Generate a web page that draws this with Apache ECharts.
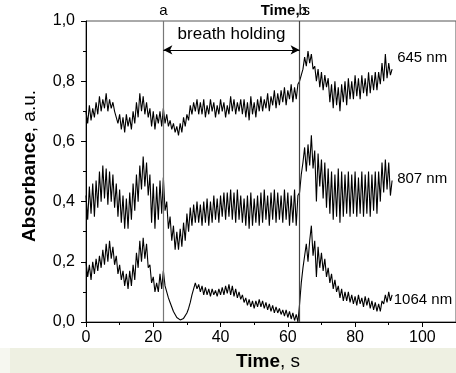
<!DOCTYPE html>
<html><head><meta charset="utf-8">
<script src="https://cdn.jsdelivr.net/npm/echarts@6/dist/echarts.min.js"></script>
<style>html,body{margin:0;padding:0;background:#fff}#c{width:456px;height:373px}</style>
</head><body><div id="c"></div>
<script>
// sampling: every 0.5 s starting at 0 s
const t0 = 0, dt = 0.5;
const xTicks = [0, 20, 40, 60, 80, 100];
const yTicks = ['0,0', '0,2', '0,4', '0,6', '0,8', '1,0'];
const seriesNames = ['645 nm', '807 nm', '1064 nm'];
const markA = 23, markB = 63.5;

const v645 = [
0.70,0.66,0.72,0.67,0.71,0.68,
0.73,0.69,0.75,0.70,0.74,0.71,0.76,0.70,0.74,0.71,0.73,0.70,
0.70,0.66,0.69,0.64,0.68,0.63,0.69,0.65,0.68,0.64,
0.70,0.66,0.73,0.68,0.76,0.70,0.75,0.69,0.73,0.68,
0.71,0.65,0.70,0.64,0.69,0.66,0.70,0.65,0.71,0.66,
0.69,0.65,0.67,0.64,0.66,0.63,0.65,0.62,0.66,0.63,0.68,0.65,
0.69,0.67,0.72,0.69,0.73,0.70,0.74,0.69,
0.73,0.69,0.74,0.68,0.72,0.69,0.74,0.70,0.73,0.68,0.72,0.69,0.74,0.70,0.73,0.68,0.72,0.69,0.75,0.70,0.74,0.69,0.73,0.70,0.74,0.69,
0.74,0.68,0.73,0.67,0.75,0.69,0.73,0.68,0.74,0.70,
0.75,0.70,0.74,0.71,0.76,0.70,0.75,0.72,0.77,0.71,0.76,0.72,0.77,0.73,0.78,0.72,0.77,0.74,0.79,0.73,0.78,0.74,0.79,0.80,
0.82,0.84,0.88,0.85,0.90,0.86,0.89,0.84,
0.85,0.80,0.84,0.78,0.83,0.77,0.82,0.78,
0.81,0.73,0.79,0.71,0.80,0.72,0.78,0.70,0.79,0.73,0.80,0.72,0.81,0.74,
0.80,0.74,0.82,0.75,0.81,0.74,0.82,0.76,0.81,0.75,0.83,0.76,0.82,0.77,0.83,0.77,
0.83,0.79,0.86,0.80,0.89,0.81,0.86,0.82,0.84
];
const v807 = [
0.42,0.34,0.45,0.36,0.46,0.35,
0.47,0.38,0.50,0.40,0.52,0.41,0.51,0.39,0.50,0.40,0.49,0.38,
0.46,0.35,0.44,0.33,0.42,0.31,0.41,0.31,0.43,0.34,
0.46,0.37,0.49,0.40,0.52,0.44,0.55,0.45,0.53,0.42,
0.49,0.33,0.46,0.31,0.45,0.34,0.47,0.36,0.48,0.37,
0.40,0.31,0.35,0.27,0.32,0.24,0.30,0.24,0.31,0.25,0.33,0.27,
0.36,0.30,0.38,0.32,0.39,0.33,0.40,0.33,
0.39,0.32,0.40,0.33,0.41,0.32,0.40,0.33,0.42,0.34,0.41,0.33,0.42,0.35,0.43,0.34,0.43,0.35,0.44,0.34,0.43,0.33,0.44,0.34,0.42,0.33,
0.41,0.32,0.42,0.31,0.43,0.32,0.41,0.33,0.42,0.32,
0.43,0.33,0.44,0.34,0.42,0.32,0.43,0.34,0.44,0.33,0.43,0.34,0.42,0.33,0.44,0.34,0.43,0.32,0.42,0.33,0.44,0.32,0.42,0.43,
0.49,0.53,0.58,0.50,0.59,0.52,0.62,0.51,
0.57,0.40,0.56,0.45,0.54,0.41,0.53,0.38,
0.51,0.36,0.50,0.34,0.49,0.35,0.51,0.33,0.50,0.35,0.49,0.36,0.50,0.35,
0.49,0.36,0.50,0.35,0.48,0.36,0.50,0.35,0.49,0.36,0.50,0.35,0.49,0.37,0.50,0.36,
0.50,0.40,0.53,0.43,0.54,0.44,0.53,0.42,0.47
];
const v1064 = [
0.20,0.15,0.19,0.14,0.20,0.16,
0.21,0.17,0.22,0.18,0.24,0.19,0.26,0.20,0.27,0.21,0.25,0.19,
0.22,0.16,0.19,0.14,0.17,0.12,0.16,0.11,0.17,0.12,
0.19,0.14,0.23,0.18,0.27,0.20,0.28,0.21,0.26,0.18,
0.19,0.13,0.15,0.10,0.13,0.10,0.16,0.11,0.17,0.12,
0.10,0.08,0.065,0.05,0.035,0.025,0.015,0.01,0.007,0.008,0.012,0.018,
0.03,0.045,0.065,0.09,0.11,0.13,0.11,0.125,
0.10,0.12,0.09,0.115,0.09,0.11,0.085,0.11,0.09,0.105,0.085,0.11,0.09,0.115,0.09,0.12,0.095,0.125,0.09,0.12,0.085,0.11,0.08,0.10,0.075,0.09,
0.065,0.08,0.055,0.075,0.05,0.07,0.045,0.07,0.05,0.075,
0.05,0.07,0.045,0.065,0.04,0.06,0.035,0.055,0.03,0.05,0.03,0.045,0.025,0.04,0.02,0.04,0.015,0.035,0.01,0.03,0.005,0.025,0.0,0.06,
0.13,0.18,0.22,0.26,0.20,0.27,0.32,0.22,
0.27,0.15,0.25,0.18,0.23,0.17,0.21,0.15,
0.18,0.13,0.16,0.11,0.14,0.10,0.12,0.08,0.11,0.07,0.10,0.07,0.10,0.065,
0.09,0.06,0.085,0.055,0.09,0.06,0.08,0.05,0.085,0.055,0.08,0.045,0.07,0.04,0.065,0.035,
0.06,0.035,0.07,0.06,0.09,0.065,0.10,0.07,0.09
];
const labelPos = [[92.5, 0.877], [92.5, 0.475], [91.5, 0.073]];

const FAMILY = 'Liberation Sans';
const pairs = v => v.map((y, i) => [t0 + i * dt, y]);
const chart = echarts.init(document.getElementById('c'), null, {renderer: 'canvas'});

const lineSeries = [v645, v807, v1064].map((v, k) => ({
  type: 'line', name: seriesNames[k], data: pairs(v), showSymbol: false, symbol: 'none',
  lineStyle: {color: '#000', width: 1.1}, silent: true, animation: false, z: 3
}));
lineSeries[0].markLine = {
  silent: true, symbol: 'none', animation: false, label: {show: false},
  data: [
    {xAxis: markA, lineStyle: {color: '#777', width: 1.2, type: 'solid'}},
    {xAxis: markB, lineStyle: {color: '#444', width: 1.2, type: 'solid'}},
    [{coord: [markA, 0.904], symbol: 'arrow', symbolSize: [7, 9]},
     {coord: [markB, 0.904], symbol: 'arrow', symbolSize: [7, 9], lineStyle: {color: '#000', width: 1, type: 'solid'}}]
  ]
};

chart.setOption({
  animation: false,
  grid: {left: 86, right: -4, top: 21, bottom: 51, show: true, borderColor: '#555', borderWidth: 1, backgroundColor: 'transparent'},
  xAxis: {
    type: 'value', min: 0, max: 110, interval: 20,
    axisLine: {show: true, onZero: false, lineStyle: {color: '#000', width: 1}},
    axisTick: {show: true, inside: false, length: 5, lineStyle: {color: '#000'}},
    minorTick: {show: true, splitNumber: 2, length: 3, lineStyle: {color: '#000'}},
    splitLine: {show: false},
    axisLabel: {color: '#000', fontFamily: FAMILY, fontSize: 16, margin: 8, showMaxLabel: false,
      formatter: v => xTicks.indexOf(v) >= 0 ? String(v) : ''}
  },
  yAxis: {
    type: 'value', min: 0, max: 1, interval: 0.2,
    axisLine: {show: true, onZero: false, lineStyle: {color: '#000', width: 1}},
    axisTick: {show: true, inside: false, length: 5, lineStyle: {color: '#000'}},
    minorTick: {show: true, splitNumber: 2, length: 3, lineStyle: {color: '#000'}},
    splitLine: {show: false},
    axisLabel: {color: '#000', fontFamily: FAMILY, fontSize: 16, margin: 11,
      formatter: v => yTicks[Math.round(v * 5)]}
  },
  series: lineSeries
});

const px = labelPos.map(p => chart.convertToPixel({gridIndex: 0}, p));
const annText = (x, y, text, opt) => ({type: 'text', x: x, y: y, silent: true,
  style: Object.assign({text: text, fill: '#000', fontSize: 15, fontFamily: FAMILY, fontWeight: 'normal',
    align: 'left', verticalAlign: 'middle'}, opt || {})});
const pa = chart.convertToPixel({gridIndex: 0}, [markA, 1]);
const pb = chart.convertToPixel({gridIndex: 0}, [markB, 1]);
const pm = chart.convertToPixel({gridIndex: 0}, [(markA + markB) / 2, 0.955]);

chart.setOption({
  graphic: [
    {type: 'rect', z: -10, silent: true, shape: {x: 10, y: 348, width: 446, height: 25}, style: {fill: '#eef0e2'}},
    {type: 'rect', z: -10, silent: true, shape: {x: 0, y: 348, width: 10, height: 25}, style: {fill: '#f6f7f0'}},
    annText(px[0][0], px[0][1], seriesNames[0]),
    annText(px[1][0], px[1][1], seriesNames[1]),
    annText(px[2][0], px[2][1], seriesNames[2]),
    annText(pm[0], pm[1], 'breath holding', {fontSize: 17, align: 'center'}),
    annText(pa[0], 11, 'a', {align: 'center'}),
    annText(pb[0], 11, 'Time,', {fontWeight: 'bold', align: 'right'}),
    annText(pb[0] - 1, 11, 'b', {}),
    annText(pb[0] + 3, 11, 's', {}),
    {type: 'text', x: 268, y: 362, silent: true,
      style: {text: '{b|Time}{n|, s}', fill: '#000', fontSize: 19, fontFamily: FAMILY, align: 'center', verticalAlign: 'middle',
        rich: {b: {fontWeight: 'bold', fontSize: 19, fontFamily: FAMILY}, n: {fontWeight: 'normal', fontSize: 19, fontFamily: FAMILY}}}},
    {type: 'text', x: 30, y: 166, rotation: Math.PI / 2, silent: true,
      style: {text: '{b|Absorbance}{n|, a.u.}', fill: '#000', fontSize: 19, fontFamily: FAMILY, align: 'center', verticalAlign: 'middle',
        rich: {b: {fontWeight: 'bold', fontSize: 19, fontFamily: FAMILY}, n: {fontWeight: 'normal', fontSize: 19, fontFamily: FAMILY}}}}
  ]
});
</script>
</body></html>
